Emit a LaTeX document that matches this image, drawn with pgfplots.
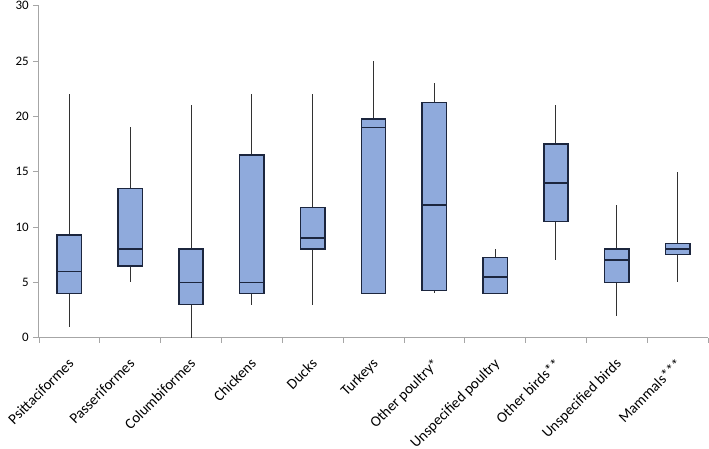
\documentclass[border=0pt]{standalone}
\usepackage{pgfplots}
\pgfplotsset{compat=1.18}
\usepgfplotslibrary{statistics}
\usepackage{fontspec}
\setmainfont{Carlito}
\definecolor{boxfill}{RGB}{143,170,220}
\definecolor{boxdraw}{RGB}{28,38,62}
\definecolor{whisk}{RGB}{50,50,50}
\definecolor{axgray}{RGB}{166,166,166}
\begin{document}
\begin{tikzpicture}
\begin{axis}[
  at={(0,0)}, anchor=south west,
  scale only axis,
  width=669bp, height=332bp,
  xmin=0.5, xmax=11.5,
  ymin=0, ymax=30,
  ytick={0,5,...,30},
  xtick={1,...,11},
  xticklabels={Psittaciformes,Passeriformes,Columbiformes,Chickens,Ducks,Turkeys,Other poultry*,Unspecified poultry,Other birds**,Unspecified birds,Mammals***},
  minor xtick={0.5,1.5,...,11.5},
  major x tick style={draw=none},
  minor x tick style={draw=axgray, line width=0.8bp},
  minor tick length=5bp,
  major tick length=6bp,
  tick align=outside,
  axis lines*=left,
  axis line style={draw=axgray, line width=1bp, -},
  y tick style={draw=axgray, line width=0.8bp},
  /pgf/number format/assume math mode=true,
  y tick label style={font=\fontsize{13}{15}\selectfont, inner sep=2bp, xshift=-2bp},
  x tick label style={font=\fontsize{15}{17}\selectfont, rotate=45, anchor=north east, inner sep=1bp, xshift=-10bp, yshift=-7bp},
  boxplot/draw direction=y,
  boxplot/box extend=0.4,
  boxplot/whisker extend=0,
  boxplot/every box/.style={fill=boxfill, draw=boxdraw, line width=1.5bp},
  boxplot/every median/.style={draw=boxdraw, line width=1.5bp},
  boxplot/every whisker/.style={draw=whisk, line width=1bp},
  clip=false,
]
\addplot[boxplot prepared={draw position=1, lower whisker=1, lower quartile=4, median=6, upper quartile=9.27, upper whisker=22}] coordinates {};
\addplot[boxplot prepared={draw position=2, lower whisker=5, lower quartile=6.5, median=8, upper quartile=13.5, upper whisker=19}] coordinates {};
\addplot[boxplot prepared={draw position=3, lower whisker=0, lower quartile=3, median=5, upper quartile=8, upper whisker=21}] coordinates {};
\addplot[boxplot prepared={draw position=4, lower whisker=3, lower quartile=4, median=5, upper quartile=16.5, upper whisker=22}] coordinates {};
\addplot[boxplot prepared={draw position=5, lower whisker=3, lower quartile=8, median=9, upper quartile=11.75, upper whisker=22}] coordinates {};
\addplot[boxplot prepared={draw position=6, lower whisker=4, lower quartile=4, median=19, upper quartile=19.75, upper whisker=25}] coordinates {};
\addplot[boxplot prepared={draw position=7, lower whisker=4, lower quartile=4.25, median=12, upper quartile=21.25, upper whisker=23}] coordinates {};
\addplot[boxplot prepared={draw position=8, lower whisker=4, lower quartile=4, median=5.5, upper quartile=7.25, upper whisker=8}] coordinates {};
\addplot[boxplot prepared={draw position=9, lower whisker=7, lower quartile=10.5, median=14, upper quartile=17.5, upper whisker=21}] coordinates {};
\addplot[boxplot prepared={draw position=10, lower whisker=2, lower quartile=5, median=7, upper quartile=8, upper whisker=12}] coordinates {};
\addplot[boxplot prepared={draw position=11, lower whisker=5, lower quartile=7.5, median=8, upper quartile=8.5, upper whisker=15}] coordinates {};
\end{axis}
\pgfresetboundingbox
\path[use as bounding box] (-39bp,-111.3bp) rectangle (670bp,337.7bp);
\end{tikzpicture}
\end{document}
